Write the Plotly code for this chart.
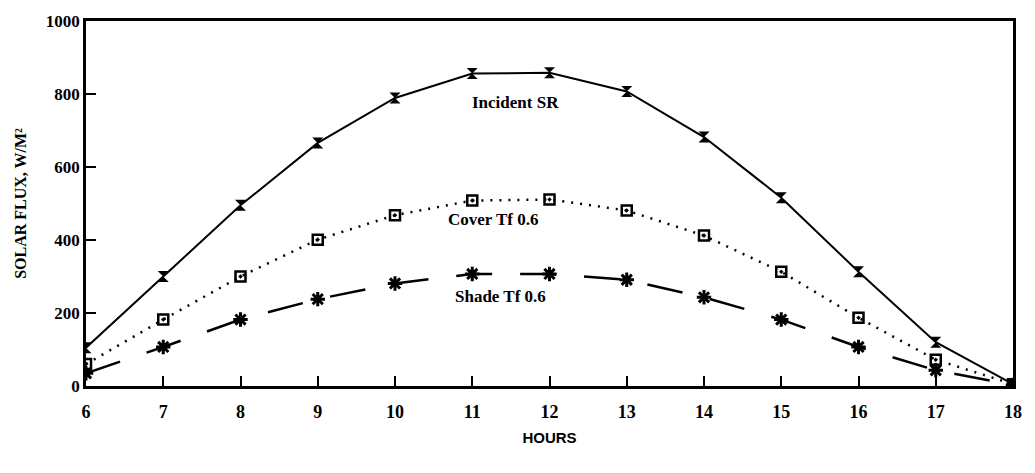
import plotly.graph_objects as go

hours = [6, 7, 8, 9, 10, 11, 12, 13, 14, 15, 16, 17, 18]
incident_sr = [105, 300, 495, 666, 789, 856, 858, 807, 682, 516, 313, 120, 5]
cover_tf = [60, 182, 300, 401, 468, 508, 511, 481, 412, 313, 187, 72, 5]
shade_tf = [35, 107, 182, 238, 281, 307, 307, 291, 243, 182, 107, 43, 3]
x_ticks = [6, 7, 8, 9, 10, 11, 12, 13, 14, 15, 16, 17, 18]
y_ticks = [0, 200, 400, 600, 800, 1000]

serif = "Liberation Serif"
fig = go.Figure()
fig.add_trace(go.Scatter(x=hours, y=incident_sr, mode="lines+markers", name="Incident SR",
                         line=dict(color="black", width=2),
                         marker=dict(symbol="hourglass", size=11, color="black")))
fig.add_trace(go.Scatter(x=hours, y=cover_tf, mode="lines+markers", name="Cover Tf 0.6",
                         line=dict(color="black", width=2.5, dash="2px,7px"),
                         marker=dict(symbol="square-open-dot", size=10, color="black",
                                     line=dict(width=2.5))))
fig.add_trace(go.Scatter(x=hours, y=shade_tf, mode="lines+markers", name="Shade Tf 0.6",
                         line=dict(color="black", width=2.5, dash="36px,28px"),
                         marker=dict(symbol="asterisk-open", size=12, color="black",
                                     line=dict(width=3, color="black"))))

for txt, xx, yy in [("Incident SR", 11.56, 777), ("Cover Tf 0.6", 11.27, 456), ("Shade Tf 0.6", 11.37, 245)]:
    fig.add_annotation(x=xx, y=yy, text="<b>" + txt + "</b>", showarrow=False,
                       font=dict(family=serif, size=17, color="black"))

fig.update_layout(
    width=1035, height=473,
    margin=dict(l=86, r=22, t=12, b=87),
    paper_bgcolor="white", plot_bgcolor="white",
    showlegend=False,
    font=dict(family=serif, color="black"),
    xaxis=dict(range=[6, 18], tickvals=x_ticks, ticktext=["<b>%d</b>" % v for v in x_ticks],
               showgrid=False, zeroline=False, showline=True, linecolor="black", linewidth=2.5,
               mirror=True, ticks="inside", ticklen=10, tickwidth=2, tickcolor="black",
               ticklabelstandoff=8,
               tickfont=dict(family=serif, size=18),
               title=dict(text="<b>HOURS</b>", font=dict(family="Liberation Sans", size=15), standoff=12)),
    yaxis=dict(range=[0, 1000], tickvals=y_ticks, ticktext=["<b>%d</b>" % v for v in y_ticks],
               showgrid=False, zeroline=False, showline=True, linecolor="black", linewidth=2.5,
               mirror=True, ticks="inside", ticklen=10, tickwidth=2, tickcolor="black",
               tickfont=dict(family=serif, size=17),
               title=dict(text="<b>SOLAR FLUX, W/M²</b>", font=dict(family=serif, size=16), standoff=16)),
)

fig.write_html("out.html")
